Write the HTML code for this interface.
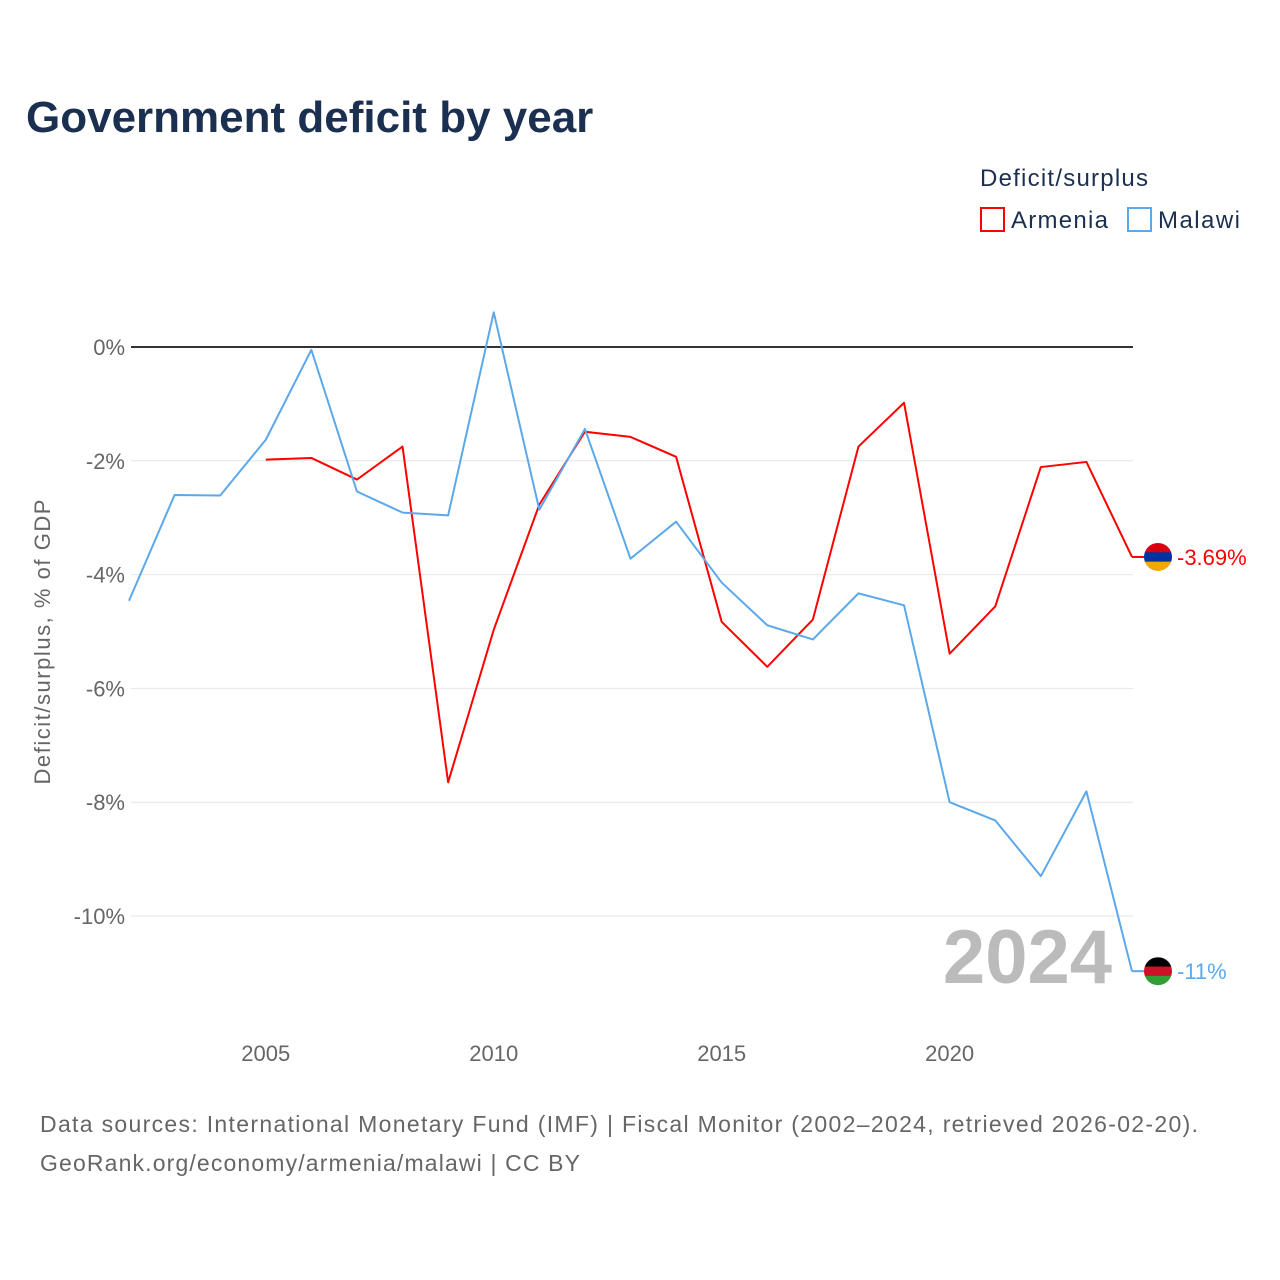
<!DOCTYPE html>
<html><head><meta charset="utf-8">
<style>
body{margin:0;background:#fff;font-family:"Liberation Sans",sans-serif;}
svg{display:block}
</style></head>
<body>
<svg id="chart" width="1280" height="1280" viewBox="0 0 1280 1280">
<text x="26" y="132" font-size="44" font-weight="bold" fill="#1b3050">Government deficit by year</text>
<g>
<text x="980" y="186" font-size="24" fill="#1b3050" textLength="168">Deficit/surplus</text>
<g><rect x="981" y="208" width="23" height="23" fill="none" stroke="#ff0000" stroke-width="2"/><text x="1011" y="228" font-size="24" fill="#1b3050" textLength="97">Armenia</text></g>
<g><rect x="1128" y="208" width="23" height="23" fill="none" stroke="#5ba8ea" stroke-width="2"/><text x="1158" y="228" font-size="24" fill="#1b3050" textLength="82">Malawi</text></g>
</g>
<g id="grid"></g>
<g id="yticks"></g>
<g id="xticks"></g>
<text transform="translate(50,642) rotate(-90)" text-anchor="middle" font-size="22" fill="#666" textLength="285">Deficit/surplus, % of GDP</text>
<text x="1112" y="983" text-anchor="end" font-size="76" font-weight="bold" fill="#bbb">2024</text>
<g id="series"></g>
<text x="40" y="1132" font-size="23" fill="#666" textLength="1158">Data sources: International Monetary Fund (IMF) | Fiscal Monitor (2002–2024, retrieved 2026-02-20).</text>
<text x="40" y="1171" font-size="23" fill="#666" textLength="540">GeoRank.org/economy/armenia/malawi | CC BY</text>
</svg>
<script>
const armeniaYears=[2005,2006,2007,2008,2009,2010,2011,2012,2013,2014,2015,2016,2017,2018,2019,2020,2021,2022,2023,2024];
const armeniaValues=[-1.98,-1.95,-2.33,-1.75,-7.65,-4.97,-2.77,-1.49,-1.58,-1.93,-4.83,-5.62,-4.79,-1.75,-0.98,-5.39,-4.56,-2.11,-2.02,-3.69];
const malawiYears=[2002,2003,2004,2005,2006,2007,2008,2009,2010,2011,2012,2013,2014,2015,2016,2017,2018,2019,2020,2021,2022,2023,2024];
const malawiValues=[-4.46,-2.60,-2.61,-1.63,-0.05,-2.54,-2.91,-2.96,0.61,-2.86,-1.44,-3.72,-3.07,-4.14,-4.89,-5.14,-4.33,-4.54,-8.0,-8.32,-9.30,-7.81,-10.97];
const yTicks=[0,-2,-4,-6,-8,-10];
const yTickLabels=["0%","-2%","-4%","-6%","-8%","-10%"];
const xTicks=[2005,2010,2015,2020];
const endLabels=["-3.69%","-11%"];
const NS="http://www.w3.org/2000/svg";
const xs=y=>129+(y-2002)*(1132-129)/22;
const ys=v=>347-v*56.9;
function mk(tag,attrs,parent){const e=document.createElementNS(NS,tag);for(const k in attrs)e.setAttribute(k,attrs[k]);parent.appendChild(e);return e;}
const grid=document.getElementById('grid'),yt=document.getElementById('yticks'),xt=document.getElementById('xticks'),ser=document.getElementById('series');
yTicks.forEach((t,i)=>{
 const l=mk('line',{x1:131,x2:1133,y1:ys(t),y2:ys(t),stroke:t===0?'#333':'#e6e6e6','stroke-width':t===0?2:1},grid);
 
 
 const tx=mk('text',{x:125,y:ys(t)+8,'text-anchor':'end','font-size':22,fill:'#666'},yt);
 tx.textContent=yTickLabels[i];
 
 
});
xTicks.forEach(t=>{
 const tx=mk('text',{x:xs(t),y:1061,'text-anchor':'middle','font-size':22,fill:'#666'},xt);
 tx.textContent=t;
 
 
});
function line(years,vals,color,name){
 const p=mk('polyline',{points:years.map((y,i)=>xs(y)+','+ys(vals[i])).join(' '),fill:'none',stroke:color,'stroke-width':2,'stroke-linejoin':'round'},ser);
 
 
}
line(armeniaYears,armeniaValues,'#ff0000','armenia-line');
line(malawiYears,malawiValues,'#5ba8ea','malawi-line');
function flag(v,cols,label,color,name){
 const y=ys(v),cx=1158;
 const g=mk('g',{},ser);
 
 
 mk('line',{x1:1132,x2:1144,y1:y,y2:y,stroke:color,'stroke-width':2},g);
 const id='c'+name;
 const cp=mk('clipPath',{id:id},g);mk('circle',{cx:cx,cy:y,r:14},cp);
 cols.forEach((c,i)=>mk('rect',{x:cx-14,y:y-14+i*28/3,width:28,height:28/3+0.5,fill:c,'clip-path':'url(#'+id+')'},g));
 const t=mk('text',{x:1177,y:y+8,'font-size':22,fill:color},g);t.textContent=label;
}
flag(armeniaValues[armeniaValues.length-1],['#d90012','#0033a0','#f2a800'],endLabels[0],'#ff0000','armenia-end-marker');
flag(malawiValues[malawiValues.length-1],['#000','#ce1126','#339e35'],endLabels[1],'#5ba8ea','malawi-end-marker');
</script>
</body></html>
